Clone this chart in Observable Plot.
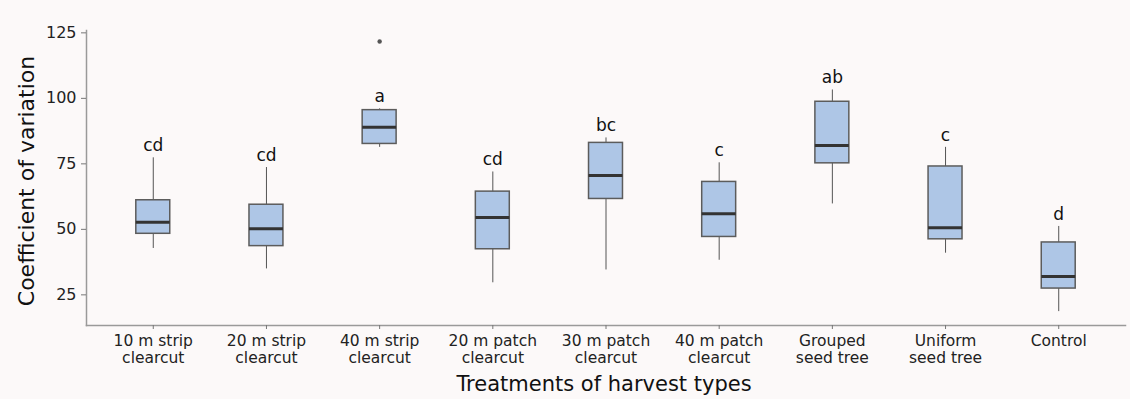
<!DOCTYPE html>
<html><head><meta charset="utf-8">
<script src="https://cdn.jsdelivr.net/npm/d3@7"></script>
<script src="https://cdn.jsdelivr.net/npm/@observablehq/plot@0.6"></script>
<style>html,body{margin:0;padding:0;background:#fcf9f9;}</style>
</head><body><div id="chart"></div><script>
const treatments = ["10 m strip\nclearcut", "20 m strip\nclearcut", "40 m strip\nclearcut", "20 m patch\nclearcut", "30 m patch\nclearcut", "40 m patch\nclearcut", "Grouped\nseed tree", "Uniform\nseed tree", "Control"];
const whiskerLow  = [42.7, 34.9, 81.3, 29.6, 34.5, 38.2, 59.7, 40.9, 18.6];
const q1          = [48.3, 43.6, 82.6, 42.4, 61.6, 47.1, 75.2, 46.2, 27.4];
const median      = [52.7, 50.2, 89.0, 54.5, 70.6, 56.0, 82.0, 50.6, 32.0];
const q3          = [61.1, 59.4, 95.5, 64.4, 83.0, 68.1, 98.7, 74.0, 45.0];
const whiskerHigh = [77.3, 73.6, 96.0, 71.9, 84.9, 75.4, 103.2, 81.3, 51.1];
const letters     = ["cd", "cd", "a", "cd", "bc", "c", "ab", "c", "d"];
const outlierTreatment = ["40 m strip\nclearcut"];
const outlierValue = [121.7];
const yTicks = [25, 50, 75, 100, 125];

const rows = treatments.map((t, i) => ({t, lo: whiskerLow[i], q1: q1[i], med: median[i], q3: q3[i], hi: whiskerHigh[i], letter: letters[i]}));
const outliers = outlierTreatment.map((t, i) => ({t, v: outlierValue[i]}));

const chart = Plot.plot({
  width: 1130, height: 399,
  marginLeft: 86, marginRight: 5, marginTop: 30, marginBottom: 74,
  style: {background: "#fcf9f9", fontFamily: "'DejaVu Sans', sans-serif", color: "#222"},
  x: {type: "band", domain: treatments, paddingInner: 0.7, paddingOuter: 0.44, round: false},
  y: {domain: [13.3, 125.9]},
  marks: [
    Plot.frame({anchor: "left", stroke: "#9a9a9a", strokeWidth: 1.5}),
    Plot.frame({anchor: "bottom", stroke: "#9a9a9a", strokeWidth: 1.5}),
    Plot.axisY({ticks: yTicks, tickSize: 5, tickPadding: 5, fontSize: 16, label: null, stroke: "#777"}),
    Plot.axisX({tickSize: 4, tickPadding: 5, fontSize: 15.5, lineHeight: 1.08, label: null, stroke: "#777"}),
    Plot.ruleX(rows, {x: "t", y1: "lo", y2: "hi", stroke: "#555", strokeWidth: 1}),
    Plot.barY(rows, {x: "t", y1: "q1", y2: "q3", fill: "#aec6e6", stroke: "#5c5c5c", strokeWidth: 1.5}),
    Plot.tickY(rows, {x: "t", y: "med", stroke: "#333", strokeWidth: 3}),
    Plot.dot(outliers, {x: "t", y: "v", r: 2.2, fill: "#555", stroke: "none"}),
    Plot.text(rows, {x: "t", y: "hi", text: "letter", dy: -12, fontSize: 17, fill: "#111", lineAnchor: "middle"}),
    Plot.text(["Coefficient of variation"], {frameAnchor: "left", rotate: -90, dx: -60, dy: 3, fontSize: 22, fill: "#111", textAnchor: "middle", lineAnchor: "middle"}),
    Plot.text(["Treatments of harvest types"], {frameAnchor: "bottom", dy: 59, dx: -2, fontSize: 21, fill: "#111", textAnchor: "middle", lineAnchor: "middle"})
  ]
});
document.getElementById("chart").appendChild(chart);
</script></body></html>
